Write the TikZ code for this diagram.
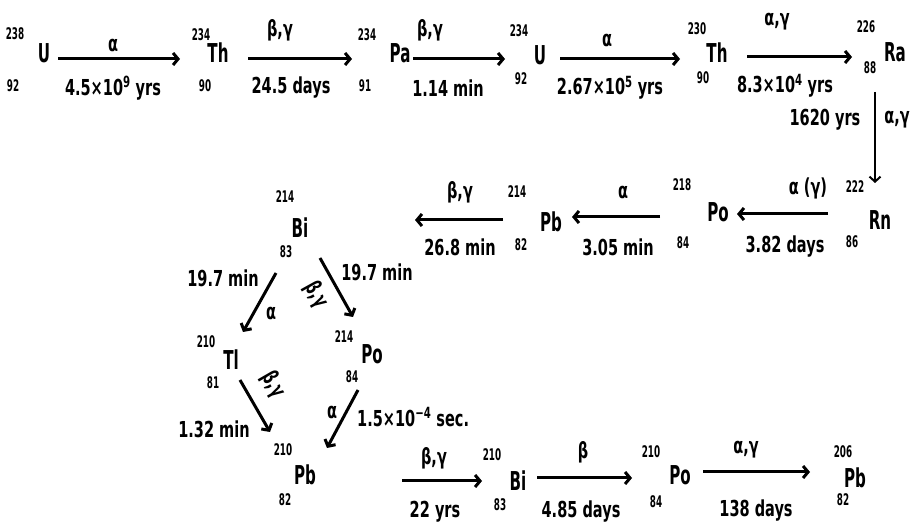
\documentclass[tikz,border=0pt]{standalone}
\usepackage{fontspec}
\setmainfont{DejaVu Sans}
\newfontfamily\symf{DejaVu Sans}[FakeStretch=0.58]
\newfontfamily\labf{DejaVu Sans}[FakeStretch=0.66]
\newfontfamily\numf{DejaVu Sans}[FakeStretch=0.55]
\usetikzlibrary{arrows.meta}
\tikzset{
  sym/.style={inner sep=0pt, font=\symf\bfseries\fontsize{26}{26}\selectfont},
  num/.style={inner sep=0pt, font=\numf\bfseries\fontsize{16}{16}\selectfont},
  lab/.style={inner sep=0pt, font=\labf\bfseries\fontsize{22}{22}\selectfont},
  arr/.style={line width=3pt, -{Straight Barb[length=5pt,width=12pt]}},
  varr/.style={line width=2pt, -{Straight Barb[length=5pt,width=11pt]}},
}
\begin{document}
\begin{tikzpicture}[x=1pt,y=-1pt]
\useasboundingbox (0,0) rectangle (911,526);
% ---- nuclides
\node[sym] (U238) at (44,53) {U};
\node[num] (mU238) at (15,34) {238};
\node[num] (zU238) at (13,86) {92};
\node[sym] (Th234) at (218,53) {Th};
\node[num] (mTh234) at (201,35) {234};
\node[num] (zTh234) at (205,86) {90};
\node[sym] (Pa234) at (400,53) {Pa};
\node[num] (mPa234) at (367,35) {234};
\node[num] (zPa234) at (365,86) {91};
\node[sym] (U234) at (540,55) {U};
\node[num] (mU234) at (519,31) {234};
\node[num] (zU234) at (521,79) {92};
\node[sym] (Th230) at (717,53) {Th};
\node[num] (mTh230) at (697,29) {230};
\node[num] (zTh230) at (703,78) {90};
\node[sym] (Ra226) at (895,52) {Ra};
\node[num] (mRa226) at (866,27) {226};
\node[num] (zRa226) at (870,68) {88};
\node[sym] (Rn222) at (880,220) {Rn};
\node[num] (mRn222) at (855,187) {222};
\node[num] (zRn222) at (852,242) {86};
\node[sym] (Po218) at (718,212) {Po};
\node[num] (mPo218) at (682,185) {218};
\node[num] (zPo218) at (683,243) {84};
\node[sym] (Pb214) at (551,222) {Pb};
\node[num] (mPb214) at (517,192) {214};
\node[num] (zPb214) at (521,245) {82};
\node[sym] (Bi214) at (300,228) {Bi};
\node[num] (mBi214) at (285,197) {214};
\node[num] (zBi214) at (286,252) {83};
\node[sym] (Tl210) at (231,360) {Tl};
\node[num] (mTl210) at (206,342) {210};
\node[num] (zTl210) at (213,383) {81};
\node[sym] (Po214) at (372,354) {Po};
\node[num] (mPo214) at (344,337) {214};
\node[num] (zPo214) at (352,377) {84};
\node[sym] (Pb210) at (305,475) {Pb};
\node[num] (mPb210) at (283,450) {210};
\node[num] (zPb210) at (285,500) {82};
\node[sym] (Bi210) at (518,481) {Bi};
\node[num] (mBi210) at (492,455) {210};
\node[num] (zBi210) at (500,505) {83};
\node[sym] (Po210) at (680,475) {Po};
\node[num] (mPo210) at (651,452) {210};
\node[num] (zPo210) at (656,502) {84};
\node[sym] (Pb206) at (855,478) {Pb};
\node[num] (mPb206) at (843,452) {206};
\node[num] (zPb206) at (843,500) {82};
% ---- connectors
\draw[arr] ([shift={(14,6)}]U238.center) -- ([shift={(-38,6)}]Th234.center);
\draw[arr] ([shift={(30,6)}]Th234.center) -- ([shift={(-48,6)}]Pa234.center);
\draw[arr] ([shift={(13,6)}]Pa234.center) -- ([shift={(-35,4)}]U234.center);
\draw[arr] ([shift={(20,4)}]U234.center) -- ([shift={(-37,6)}]Th230.center);
\draw[arr] ([shift={(30,4)}]Th230.center) -- ([shift={(-43,5)}]Ra226.center);
\draw[varr] ([shift={(-20,40)}]Ra226.center) -- ([shift={(-5,-37)}]Rn222.center);
\draw[arr] ([shift={(-52,-6)}]Rn222.center) -- ([shift={(19,2)}]Po218.center);
\draw[arr] ([shift={(-58,5)}]Po218.center) -- ([shift={(21,-5)}]Pb214.center);
\draw[arr] ([shift={(-48,-2)}]Pb214.center) -- ([shift={(115,-8)}]Bi214.center);
\draw[arr] ([shift={(-24,45)}]Bi214.center) -- ([shift={(12,-28)}]Tl210.center);
\draw[arr] ([shift={(20,30)}]Bi214.center) -- ([shift={(-19,-37)}]Po214.center);
\draw[arr] ([shift={(9,20)}]Tl210.center) -- ([shift={(-35,-43)}]Pb210.center);
\draw[arr] ([shift={(-14,36)}]Po214.center) -- ([shift={(22,-27)}]Pb210.center);
\draw[arr] ([shift={(97,6)}]Pb210.center) -- ([shift={(-36,0)}]Bi210.center);
\draw[arr] ([shift={(19,-3)}]Bi210.center) -- ([shift={(-48,3)}]Po210.center);
\draw[arr] ([shift={(23,-3)}]Po210.center) -- ([shift={(-45,-6)}]Pb206.center);
% ---- labels
\node[lab] (l1a) at (113,45) {α};
\node[lab] (l1b) at (113,88) {4.5×10\textsuperscript{9} yrs};
\node[lab] (l2a) at (280,30) {β,γ};
\node[lab] (l2b) at (291,88) {24.5 days};
\node[lab] (l3a) at (430,30) {β,γ};
\node[lab] (l3b) at (448,88) {1.14 min};
\node[lab] (l4a) at (607,40) {α};
\node[lab] (l4b) at (610,88) {2.67×10\textsuperscript{5} yrs};
\node[lab] (l5a) at (777,22) {α,γ};
\node[lab] (l5b) at (785,86) {8.3×10\textsuperscript{4} yrs};
\node[lab] (lva) at (825,120) {1620 yrs};
\node[lab] (lvb) at (897,120) {α,γ};
\node[lab] (r1a) at (808,188) {α (γ)};
\node[lab] (r1b) at (785,247) {3.82 days};
\node[lab] (r2a) at (623,192) {α};
\node[lab] (r2b) at (618,247) {3.05 min};
\node[lab] (r3a) at (460,192) {β,γ};
\node[lab] (r3b) at (460,247) {26.8 min};
\node[lab] (d1a) at (223,278) {19.7 min};
\node[lab] (d1b) at (271,313) {α};
\node[lab] (d2a) at (377,272) {19.7 min};
\node[lab,rotate=-61] (d2b) at (316,295) {β,γ};
\node[lab] (d3a) at (214,429) {1.32 min};
\node[lab,rotate=-60] (d3b) at (273,385) {β,γ};
\node[lab] (d4a) at (332,412) {α};
\node[lab,anchor=west] (d4b) at (357,417) {1.5×10\textsuperscript{−4} sec.};
\node[lab] (b1a) at (434,458) {β,γ};
\node[lab] (b1b) at (435,512) {22 yrs};
\node[lab] (b2a) at (583,452) {β};
\node[lab] (b2b) at (581,512) {4.85 days};
\node[lab] (b3a) at (746,450) {α,γ};
\node[lab] (b3b) at (756,511) {138 days};
\end{tikzpicture}
\end{document}
